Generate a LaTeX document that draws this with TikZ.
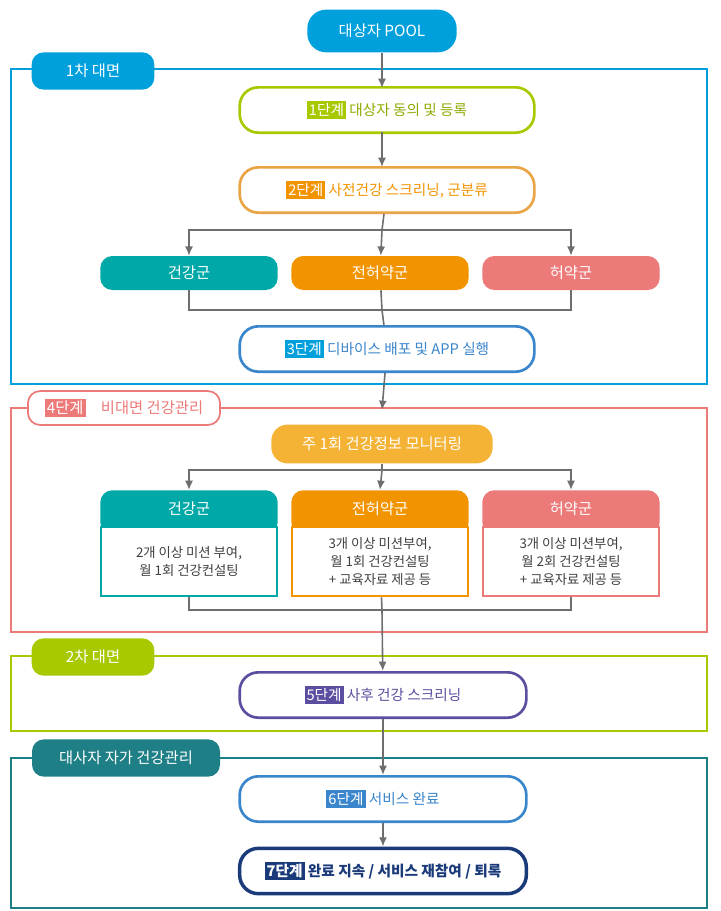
\documentclass[tikz,border=0pt]{standalone}
\usepackage{fontspec}
\setmainfont{Noto Sans CJK KR}
\usepackage{tikz}
\usetikzlibrary{arrows.meta,positioning}
\definecolor{skyc}{HTML}{00A0DC}
\definecolor{limec}{HTML}{A8C800}
\definecolor{orgc}{HTML}{E9A445}
\definecolor{orgf}{HTML}{F29400}
\definecolor{tealc}{HTML}{00A8A8}
\definecolor{pinkc}{HTML}{EC7A78}
\definecolor{bluec}{HTML}{3A86CC}
\definecolor{yelc}{HTML}{F5B335}
\definecolor{purc}{HTML}{5B4EA0}
\definecolor{dtealc}{HTML}{1E7F86}
\definecolor{navyc}{HTML}{1A3A7A}
\definecolor{linec}{HTML}{6E6E6E}
\begin{document}
\begin{tikzpicture}[x=0.75pt,y=-0.75pt]
    \tikzstyle{stepbox} = [rectangle, rounded corners=14pt, draw, line width=2pt, fill=white, minimum width=221pt, minimum height=34pt, inner sep=0pt, font=\fontsize{11}{13}\selectfont]
    \tikzstyle{grp} = [rectangle, rounded corners=9pt, fill=#1, text=white, minimum width=133pt, minimum height=25.5pt, inner sep=0pt, font=\fontsize{11.5}{13}\selectfont]
    \tikzstyle{head} = [rectangle, rounded corners=9pt, fill=#1, text=white, minimum width=133pt, minimum height=33pt, inner sep=0pt, font=\fontsize{11.5}{13}\selectfont]
    \tikzstyle{body} = [rectangle, draw=#1, line width=1.5pt, fill=white, minimum width=132pt, minimum height=52pt, inner sep=0pt, align=center, font=\fontsize{10}{13.5}\selectfont, text=black!75]
    \tikzstyle{frame} = [draw=#1, line width=1.3pt]
    \tikzstyle{tab} = [rectangle, rounded corners=9pt, fill=#1, text=white, minimum height=28pt, inner sep=6pt, font=\fontsize{11.5}{13}\selectfont]
    \tikzstyle{conn} = [linec, line width=1.2pt]
    \tikzstyle{arr} = [conn, -{Latex[length=7pt,width=6pt]}]
    \setlength{\fboxsep}{1.5pt}
    \useasboundingbox (0,0) rectangle (721,911);
    % frames
    \draw[frame=skyc] (11,69) rectangle (707,384);
    \draw[frame=pinkc] (11,408) rectangle (707,632);
    \draw[frame=limec] (11,656) rectangle (707,731);
    \draw[frame=dtealc] (11,758) rectangle (707,908);
    \node[tab=skyc, minimum width=92pt] (tab1) at (93,71) {1차 대면};
    \node[tab=white, draw=pinkc, line width=1.3pt, minimum height=22pt, minimum width=144pt, text=pinkc] (tab4) at (124,408) {\colorbox{pinkc}{\textcolor{white}{4단계}}\quad 비대면 건강관리};
    \node[tab=limec, minimum width=92pt] (tab2) at (93,657) {2차 대면};
    \node[tab=dtealc, minimum width=141pt] (tab3) at (126,758) {대사자 자가 건강관리};
    % nodes
    \node[rectangle, rounded corners=14pt, fill=skyc, text=white, minimum width=112pt, minimum height=32pt, font=\fontsize{11.5}{13}\selectfont] (pool) at (382,31) {대상자 POOL};
    \node[stepbox, draw=limec, text=limec!85!black] (s1) at (387,110) {\colorbox{limec}{\textcolor{white}{1단계}}\ 대상자 동의 및 등록};
    \node[stepbox, draw=orgc, text=orgf] (s2) at (387,190) {\colorbox{orgf}{\textcolor{white}{2단계}}\ 사전건강 스크리닝, 군분류};
    \node[grp=tealc] (g1) at (189,273) {건강군};
    \node[grp=orgf] (g2) at (380,273) {전허약군};
    \node[grp=pinkc] (g3) at (571,273) {허약군};
    \node[stepbox, draw=bluec, text=bluec] (s3) at (387,349) {\colorbox{skyc}{\textcolor{white}{3단계}}\ 디바이스 배포 및 APP 실행};
    \node[rectangle, rounded corners=12pt, fill=yelc, text=white, minimum width=166pt, minimum height=29pt, font=\fontsize{11.5}{13}\selectfont] (mon) at (382,444) {주 1회 건강정보 모니터링};
    \node[head=tealc, anchor=north] (h1) at (189,490) {};
    \node[head=orgf, anchor=north] (h2) at (380,490) {};
    \node[head=pinkc, anchor=north] (h3) at (571,490) {};
    \node[body=tealc, anchor=north] (b1) at (189,526) {2개 이상 미션 부여,\\월 1회 건강컨설팅};
    \node[body=orgf, anchor=north] (b2) at (380,526) {3개 이상 미션부여,\\월 1회 건강컨설팅\\+ 교육자료 제공 등};
    \node[body=pinkc, anchor=north] (b3) at (571,526) {3개 이상 미션부여,\\월 2회 건강컨설팅\\+ 교육자료 제공 등};
    \node[text=white, font=\fontsize{11.5}{13}\selectfont] (t1) at (189,509) {건강군};
    \node[text=white, font=\fontsize{11.5}{13}\selectfont] (t2) at (380,509) {전허약군};
    \node[text=white, font=\fontsize{11.5}{13}\selectfont] (t3) at (571,509) {허약군};
    \node[stepbox, draw=purc, text=purc, minimum width=215pt] (s5) at (383,695) {\colorbox{purc}{\textcolor{white}{5단계}}\ 사후 건강 스크리닝};
    \node[stepbox, draw=bluec, text=bluec, minimum width=215pt] (s6) at (383,799) {\colorbox{bluec}{\textcolor{white}{6단계}}\ 서비스 완료};
    \node[stepbox, draw=navyc, text=navyc, line width=2.6pt, minimum width=215pt, font=\fontsize{11}{13}\selectfont\bfseries] (s7) at (383,871) {\colorbox{navyc}{\textcolor{white}{7단계}}\ 완료 지속 / 서비스 재참여 / 퇴록};
    % connectors
    \coordinate (c1) at (382,230); \coordinate (c2) at (382,310);
    \coordinate (c3) at (382,470); \coordinate (c4) at (382,610);
    \coordinate (e1) at (382,88); \coordinate (e2) at (382,132); \coordinate (e3) at (382,167);
    \draw[arr] (pool) -- (e1);
    \draw[arr] (e2) -- (e3);
    \draw[conn] (s2) -- (c1);
    \draw[arr] (c1) -| (g1); \draw[arr] (c1) -- (g2); \draw[arr] (c1) -| (g3);
    \draw[conn] (g1) |- (c2) -| (g3); \draw[conn] (g2) -- (c2) -- (s3);
    \draw[arr] (s3) -- (382,410);
    \draw[conn] (mon) -- (c3);
    \draw[arr] (c3) -| (h1.north); \draw[arr] (c3) -- (h2.north); \draw[arr] (c3) -| (h3.north);
    \draw[conn] (b1) |- (c4) -| (b3); \draw[conn] (b2) -- (c4);
    \draw[arr] (c4) -- (s5);
    \draw[arr] (s5) -- (s6);
    \draw[arr] (s6) -- (s7);
\end{tikzpicture}
\end{document}
